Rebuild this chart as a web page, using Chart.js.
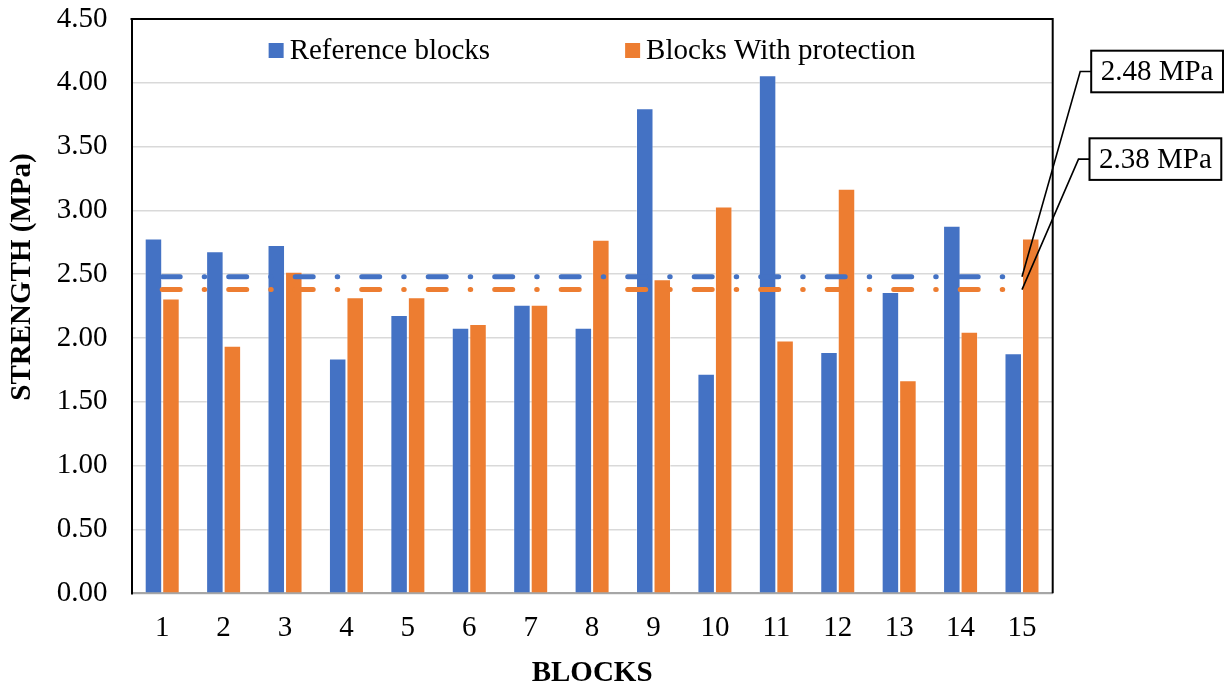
<!DOCTYPE html>
<html>
<head>
<meta charset="utf-8">
<title>Block strength</title>
<script src="https://cdn.jsdelivr.net/npm/chart.js@4.4.0/dist/chart.umd.min.js"></script>
<style>
  html, body { margin: 0; padding: 0; background: #fff; }
  #wrap { width: 1229px; height: 684px; }
</style>
</head>
<body>
<div id="wrap"><canvas id="strengthChart" width="1229" height="684"></canvas></div>
<script>
// Block numbers along the x axis
const blocks = ['1', '2', '3', '4', '5', '6', '7', '8', '9', '10', '11', '12', '13', '14', '15'];

// Strength of each block (MPa)
const referenceBlocks = [2.78, 2.68, 2.73, 1.84, 2.18, 2.08, 2.26, 2.08, 3.80, 1.72, 4.06, 1.89, 2.36, 2.88, 1.88];
const protectedBlocks = [2.31, 1.94, 2.52, 2.32, 2.32, 2.11, 2.26, 2.77, 2.46, 3.03, 1.98, 3.17, 1.67, 2.05, 2.78];

// Mean strength of each series, drawn as dash-dot lines with a callout
const meanStrength = [2.48, 2.38];

const seriesNames = ['Reference blocks', 'Blocks With protection'];
const seriesColors = ['#4472C4', '#ED7D31'];

// y axis ticks (MPa)
const strengthTicks = [0, 0.5, 1, 1.5, 2, 2.5, 3, 3.5, 4, 4.5];

const SERIF = "'Liberation Serif', 'Times New Roman', serif";

// Frame, y title, in-plot legend and the mean value callouts
const chartDecor = {
    id: 'chartDecor',
    afterDatasetsDraw(chart) {
        const { ctx, chartArea: a } = chart;
        ctx.save();

        // top and right edge of the plot frame
        ctx.strokeStyle = '#000';
        ctx.lineWidth = 2;
        ctx.beginPath();
        ctx.moveTo(a.left - 1, a.top);
        ctx.lineTo(a.right, a.top);
        ctx.lineTo(a.right, a.bottom);
        ctx.stroke();

        // y axis title
        ctx.save();
        ctx.translate(23, 277);
        ctx.rotate(-Math.PI / 2);
        ctx.font = 'bold 29px ' + SERIF;
        ctx.fillStyle = '#000';
        ctx.textAlign = 'center';
        ctx.textBaseline = 'middle';
        ctx.fillText('STRENGTH (MPa)', 0, 0);
        ctx.restore();

        // legend inside the plot area
        ctx.font = '29px ' + SERIF;
        ctx.textBaseline = 'middle';
        ctx.textAlign = 'left';
        const items = seriesNames.map((name, i) => ({
            name: name,
            color: seriesColors[i],
            w: 15 + 6 + ctx.measureText(name).width
        }));
        const gap = 135;
        const total = items.reduce((s, it) => s + it.w, 0) + gap * (items.length - 1);
        let lx = (a.left + a.right) / 2 - total / 2;
        const ly = a.top + 31.5;
        items.forEach(it => {
            ctx.fillStyle = it.color;
            ctx.fillRect(lx, ly - 7.5, 15, 15);
            ctx.fillStyle = '#000';
            ctx.fillText(it.name, lx + 21, ly + 1);
            lx += it.w + gap;
        });

        // callouts for the mean lines
        const boxes = [{ dx: 38.5, top: 31.7 }, { dx: 36.8, top: 119.3 }];
        meanStrength.forEach((v, i) => {
            const meta = chart.getDatasetMeta(i);
            const pt = meta.data[meta.data.length - 1];
            const text = v.toFixed(2) + ' MPa';
            const bw = ctx.measureText(text).width + 19;
            const bh = 41.6;
            const bx = a.right + boxes[i].dx;
            const by = a.top + boxes[i].top;
            const my = by + bh / 2;

            ctx.strokeStyle = '#000';
            ctx.lineWidth = 1.6;
            ctx.beginPath();
            ctx.moveTo(pt.x, pt.y);
            ctx.lineTo(bx - 11, my);
            ctx.lineTo(bx, my);
            ctx.stroke();

            ctx.fillStyle = '#fff';
            ctx.fillRect(bx, by, bw, bh);
            ctx.lineWidth = 2;
            ctx.strokeRect(bx, by, bw, bh);

            ctx.fillStyle = '#000';
            ctx.textAlign = 'center';
            ctx.fillText(text, bx + bw / 2, my + 1);
            ctx.textAlign = 'left';
        });

        ctx.restore();
    }
};

function meanLine(i) {
    return {
        type: 'line',
        label: 'Mean ' + seriesNames[i],
        data: [
            { x: blocks[0], y: meanStrength[i] },
            { x: blocks[blocks.length - 1], y: meanStrength[i] }
        ],
        borderColor: seriesColors[i],
        borderWidth: 5,
        borderDash: [18, 24, 0.5, 24],
        borderCapStyle: 'round',
        pointRadius: 0,
        fill: false,
        order: 0
    };
}

function barSeries(i, values) {
    return {
        type: 'bar',
        label: seriesNames[i],
        data: values,
        backgroundColor: seriesColors[i],
        borderColor: 'rgba(255, 255, 255, 0.4)',
        borderWidth: 1,
        categoryPercentage: 0.57,
        barPercentage: 1,
        order: 1
    };
}

const ctx = document.getElementById('strengthChart').getContext('2d');
const chart = new Chart(ctx, {
    data: {
        labels: blocks,
        datasets: [
            meanLine(0),
            meanLine(1),
            barSeries(0, referenceBlocks),
            barSeries(1, protectedBlocks)
        ]
    },
    options: {
        responsive: false,
        animation: false,
        devicePixelRatio: 1,
        layout: {
            padding: { left: 0, top: 19, right: 176.3, bottom: 0 }
        },
        plugins: {
            legend: { display: false },
            tooltip: { enabled: false }
        },
        scales: {
            x: {
                offset: true,
                grid: { display: false, drawTicks: false },
                border: { display: true, color: '#a6a6a6', width: 2 },
                ticks: {
                    color: '#000',
                    padding: 18,
                    font: { family: SERIF, size: 29 }
                },
                title: {
                    display: true,
                    text: 'BLOCKS',
                    color: '#000',
                    padding: 0,
                    font: { family: SERIF, size: 29, weight: 'bold', lineHeight: 0.7 }
                },
                afterFit(scale) {
                    scale.height = 90.7;
                    scale.paddingLeft = 0;
                    scale.paddingRight = 0;
                }
            },
            y: {
                min: 0,
                max: 4.5,
                grid: { color: '#d9d9d9', lineWidth: 1.5, drawTicks: false },
                border: { display: true, color: '#000', width: 2 },
                afterBuildTicks(scale) {
                    scale.ticks = strengthTicks.map(v => ({ value: v }));
                },
                ticks: {
                    color: '#000',
                    padding: 24,
                    font: { family: SERIF, size: 29 },
                    callback: value => Number(value).toFixed(2)
                },
                title: { display: false },
                afterFit(scale) {
                    scale.width = 131.5;
                    scale.paddingTop = 0;
                    scale.paddingBottom = 0;
                }
            }
        }
    },
    plugins: [chartDecor]
});
</script>
</body>
</html>
